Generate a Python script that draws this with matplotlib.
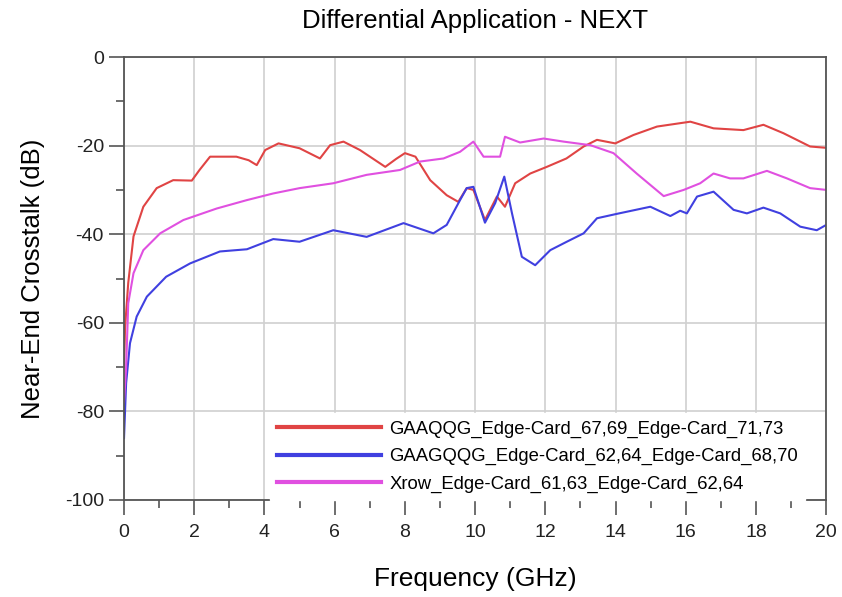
import matplotlib
matplotlib.use("Agg")
import matplotlib.pyplot as plt
from matplotlib.ticker import MultipleLocator

plt.rcParams['font.family'] = ['Liberation Sans', 'DejaVu Sans']
plt.rcParams['axes.unicode_minus'] = False

# GAAQQG_Edge-Card_67,69_Edge-Card_71,73 (red)
red_f = [0.0, 0.03, 0.12, 0.27, 0.55, 0.93, 1.4, 1.93, 2.15, 2.45, 3.2, 3.55, 3.78, 4.02, 4.4, 5.0, 5.58, 5.87,
         6.25, 6.72, 7.44, 7.75, 8.0, 8.3, 8.72, 9.19, 9.52, 9.76, 9.95, 10.28, 10.62, 10.85, 11.14, 11.57,
         12.04, 12.6, 13.09, 13.47, 13.99, 14.51, 15.18, 16.13, 16.79, 17.64, 18.21, 18.78, 19.54, 20.0]
red_db = [-70, -61, -51, -40.5, -33.8, -29.6, -27.8, -27.9, -25.5, -22.5, -22.5, -23.3, -24.4, -21, -19.5, -20.6, -22.9, -19.9,
          -19.1, -21, -24.8, -23.0, -21.7, -22.5, -27.8, -31.2, -32.7, -29.6, -30, -36.8, -31.5, -33.8, -28.5, -26.3,
          -24.8, -22.9, -20.2, -18.7, -19.5, -17.6, -15.7, -14.6, -16.1, -16.5, -15.3, -17.2, -20.2, -20.5]

# GAAGQQG_Edge-Card_62,64_Edge-Card_68,70 (blue)
blue_f = [0.0, 0.06, 0.17, 0.36, 0.65, 1.2, 1.88, 2.73, 3.5, 4.25, 5.0, 5.96, 6.91, 7.96, 8.81, 9.19,
          9.57, 9.76, 9.95, 10.28, 10.57, 10.83, 11.05, 11.33, 11.71, 12.14, 12.61, 13.09, 13.47, 14.04,
          14.99, 15.56, 15.84, 16.03, 16.32, 16.79, 17.36, 17.74, 18.21, 18.69, 19.26, 19.73, 20.0]
blue_db = [-86, -73.6, -64.6, -58.6, -54.1, -49.6, -46.6, -43.9, -43.4, -41.1, -41.7, -39.1, -40.6, -37.5, -39.8, -37.9,
           -32.3, -29.6, -29.3, -37.4, -33.0, -27.0, -35.3, -45.1, -47.0, -43.6, -41.7, -39.8, -36.4, -35.4,
           -33.8, -35.9, -34.7, -35.3, -31.5, -30.4, -34.5, -35.3, -34.0, -35.3, -38.3, -39.1, -37.9]

# Xrow_Edge-Card_61,63_Edge-Card_62,64 (magenta)
mag_f = [0.0, 0.06, 0.12, 0.27, 0.55, 1.03, 1.69, 2.64, 3.5, 4.25, 5.0, 5.96, 6.91, 7.86, 8.43, 9.1,
         9.57, 9.95, 10.24, 10.71, 10.85, 11.28, 11.95, 12.52, 13.28, 13.94, 14.6, 15.37, 15.94, 16.41,
         16.79, 17.26, 17.64, 18.31, 18.88, 19.54, 20.0]
mag_db = [-78, -70, -55.6, -48.8, -43.6, -39.8, -36.8, -34.2, -32.3, -30.8, -29.6, -28.5, -26.6, -25.5, -23.6, -22.9,
          -21.4, -19.1, -22.5, -22.5, -18.0, -19.3, -18.4, -19.1, -19.9, -21.7, -26.3, -31.4, -30.0, -28.5,
          -26.3, -27.4, -27.4, -25.7, -27.4, -29.6, -30]

labels = ["GAAQQG_Edge-Card_67,69_Edge-Card_71,73",
          "GAAGQQG_Edge-Card_62,64_Edge-Card_68,70",
          "Xrow_Edge-Card_61,63_Edge-Card_62,64"]

fig = plt.figure(figsize=(8.42, 5.97), dpi=100)
ax = fig.add_axes([0.1473, 0.1625, 0.834, 0.742])

ax.plot(red_f, red_db, color='#e04444', lw=1.5, label=labels[0])
ax.plot(blue_f, blue_db, color='#4040e0', lw=1.5, label=labels[1])
ax.plot(mag_f, mag_db, color='#e050e0', lw=1.5, label=labels[2])

ax.set_xlim(0, 20)
ax.set_ylim(-100, 0)
ax.xaxis.set_major_locator(MultipleLocator(2))
ax.xaxis.set_minor_locator(MultipleLocator(1))
ax.yaxis.set_major_locator(MultipleLocator(20))
ax.yaxis.set_minor_locator(MultipleLocator(10))
ax.grid(True, which='major', color='#d0d0d0', lw=1.2)
ax.tick_params(which='major', direction='out', length=11, width=1.2, labelsize=14,
               color='#555555', labelcolor='#222222')
ax.tick_params(axis='x', which='major', pad=6)
ax.tick_params(which='minor', direction='out', length=6, width=1.2, color='#555555')
for s in ax.spines.values():
    s.set_color('#555555')
    s.set_linewidth(1.3)

ax.set_title("Differential Application - NEXT", fontsize=18.5, pad=21)
ax.set_xlabel("Frequency (GHz)", fontsize=19)
ax.xaxis.set_label_coords(0.5, -0.152)
ax.set_ylabel("Near-End Crosstalk (dB)", fontsize=18.5)
ax.yaxis.set_label_coords(-0.112, 0.5)

leg = ax.legend(loc='lower left', bbox_to_anchor=(0.208, 0.0), borderaxespad=0.0, fontsize=13.3,
                frameon=True, fancybox=False, handlelength=5.6, handletextpad=0.45,
                borderpad=0.4, labelspacing=0.55)
leg.get_frame().set_edgecolor('white')
leg.get_frame().set_alpha(1)
for line in leg.get_lines():
    line.set_linewidth(3)

fig.savefig("out.png", dpi=100)
